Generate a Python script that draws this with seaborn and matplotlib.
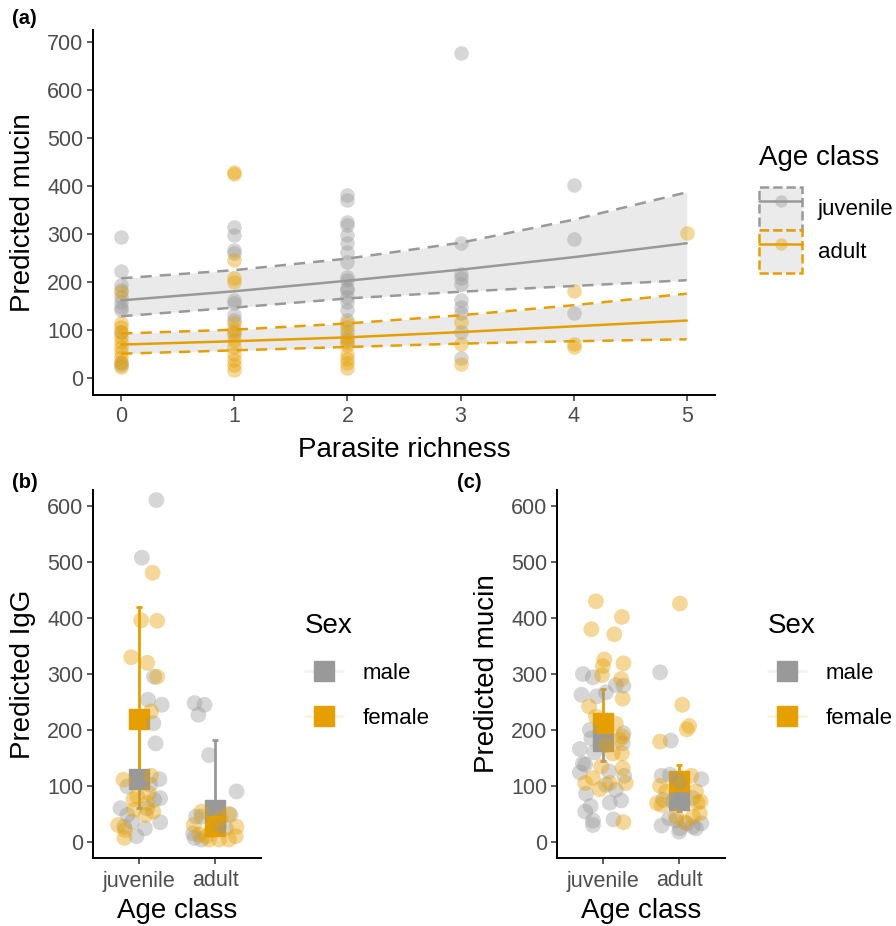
import numpy as np
import pandas as pd
import matplotlib
matplotlib.use("Agg")
import matplotlib.pyplot as plt
import seaborn as sns
from matplotlib.patches import Patch
from matplotlib.lines import Line2D
from matplotlib.legend_handler import HandlerTuple

sns.set_theme(style="white")
plt.rcParams['font.family'] = ['Liberation Sans', 'DejaVu Sans']
plt.rcParams['text.color'] = 'black'
plt.rcParams['axes.labelcolor'] = 'black'

GRAY = '#999999'
ORANGE = '#E69F00'

# ---------------- Panel (a) data ----------------
a_juv_x = [0]*11 + [1]*9 + [2]*18 + [3]*10 + [4]*3
a_juv_y = [294, 224, 194, 183, 169, 159, 149, 142, 96, 34, 28,
           315, 298, 267, 260, 163, 157, 131, 121, 96,
           381, 371, 326, 319, 298, 281, 263, 242, 211, 204, 187, 183, 169, 159, 142, 121, 97, 80,
           678, 281, 217, 208, 197, 163, 149, 135, 96, 41,
           403, 290, 135]
a_ad_x = [0]*11 + [1]*14 + [2]*9 + [3]*3 + [4]*3 + [5]*1
a_ad_y = [180, 114, 107, 96, 86, 76, 65, 55, 44, 31, 24,
          429, 425, 246, 208, 201, 114, 103, 93, 79, 65, 51, 37, 27, 17,
          114, 106, 86, 76, 70, 51, 40, 31, 22,
          117, 72, 30,
          181, 72, 65,
          303]
fit_x = [0, 1, 2, 3, 4, 5]
juv_fit = [162, 181, 203, 226, 252, 281]
juv_lo = [129, 147, 166, 180, 192, 204]
juv_hi = [208, 225, 249, 282, 330, 387]
ad_fit = [70, 77, 85, 96, 108, 120]
ad_lo = [51, 58, 65, 72, 77, 81]
ad_hi = [93, 101, 114, 131, 152, 176]
age_levels = ['juvenile', 'adult']
sex_levels = ['male', 'female']

# ---------------- Panel (b) data (IgG) ----------------
b_jm_y = [611, 508, 295, 254, 245, 212, 176, 112, 99, 78, 75, 60, 35, 36, 24, 10, 48, 27, 102, 60]
b_jm_dx = [0.23, 0.04, 0.20, 0.12, 0.30, 0.19, 0.22, 0.27, -0.15, 0.28, 0.20, -0.24, 0.28, -0.09, 0.08, -0.03, -0.15, -0.19, 0.15, 0.11]
b_jf_y = [481, 396, 395, 330, 320, 295, 233, 111, 118, 87, 76, 57, 54, 48, 69, 30, 7, 21, 81]
b_jf_dx = [0.18, 0.03, 0.24, -0.10, 0.11, 0.24, 0.16, -0.20, 0.16, 0.13, -0.07, -0.06, 0.19, 0.09, 0.11, -0.27, -0.19, -0.18, -0.02]
b_am_y = [248, 245, 227, 155, 90, 45, 45, 48, 15, 7, 24, 27, 4]
b_am_dx = [-0.27, -0.14, -0.22, -0.08, 0.28, -0.25, -0.18, 0.20, -0.29, -0.27, 0.14, 0.05, -0.18]
b_af_y = [54, 50, 27, 10, 4, 4, 4, 13, 30, 21, 42, 10]
b_af_dx = [-0.18, 0.18, 0.28, 0.27, -0.08, 0.05, 0.18, -0.21, -0.28, -0.04, 0.07, -0.12]
b_m_mean = [112, 57]; b_m_lo = [60, 15]; b_m_hi = [203, 182]
b_f_mean = [219, 28]; b_f_lo = [114, 12]; b_f_hi = [420, 60]

# ---------------- Panel (c) data (mucin) ----------------
c_jf_y = [430, 380, 402, 371, 326, 314, 298, 319, 291, 256, 242, 224, 211, 188, 183, 158, 158, 173, 135, 132, 114, 105, 105, 94, 105, 35]
c_jf_dx = [-0.09, -0.15, 0.25, 0.15, 0.02, 0.0, -0.01, 0.27, 0.24, 0.26, -0.18, -0.09, 0.17, 0.26, 0.22, 0.13, 0.25, 0.04, -0.02, 0.26, -0.13, -0.23, 0.30, -0.04, 0.09, 0.27]
c_jm_y = [300, 294, 263, 260, 267, 280, 279, 200, 185, 194, 166, 160, 140, 138, 124, 126, 118, 86, 102, 93, 70, 74, 64, 54, 38, 30, 40, 176]
c_jm_dx = [-0.26, -0.13, -0.28, -0.08, 0.04, 0.17, 0.27, -0.17, -0.15, 0.27, -0.30, -0.11, -0.26, -0.23, -0.30, 0.08, 0.28, -0.22, 0.04, 0.17, 0.09, 0.24, -0.16, -0.23, -0.13, -0.13, 0.14, 0.26]
c_af_y = [426, 245, 207, 201, 179, 100, 118, 69, 66, 90, 90, 72, 70, 51, 45, 45, 35]
c_af_dx = [0.01, 0.04, 0.13, 0.10, -0.25, -0.25, 0.16, -0.29, -0.23, -0.17, 0.22, 0.28, 0.24, 0.27, 0.18, -0.04, 0.07]
c_am_y = [303, 181, 118, 120, 112, 108, 75, 72, 78, 42, 29, 24, 18, 27, 33, 24, 33, 38]
c_am_dx = [-0.25, -0.11, -0.23, -0.12, 0.29, 0.01, -0.21, -0.08, 0.18, -0.13, -0.23, 0.01, 0.0, 0.18, 0.29, 0.22, 0.10, -0.04]
c_m_mean = [181, 75]; c_m_lo = [145, 55]; c_m_hi = [222, 104]
c_f_mean = [213, 108]; c_f_lo = [165, 85]; c_f_hi = [274, 137]

TICK_FS = 15.5
LAB_FS = 20
LEG_FS = 16
TICK_COL = '#4d4d4d'

W, H = 896, 926
fig = plt.figure(figsize=(W/100, H/100), dpi=100)

def px_axes(l, t, r, b):
    return fig.add_axes([l/W, 1 - b/H, (r-l)/W, (b-t)/H])

def style(ax, xpad=3):
    sns.despine(ax=ax)
    for s in ['left', 'bottom']:
        ax.spines[s].set_linewidth(1.4)
        ax.spines[s].set_color('black')
    ax.tick_params(axis='both', which='major', length=4, width=1.1, color='#333333',
                   labelsize=TICK_FS, labelcolor=TICK_COL, pad=3, left=True, bottom=True)
    ax.tick_params(axis='x', pad=xpad)
    ax.grid(False)

# ---- Panel (a)
axa = px_axes(93, 30, 715, 395)
axa.fill_between(fit_x, juv_lo, juv_hi, color=GRAY, alpha=0.2, lw=0, zorder=1)
axa.fill_between(fit_x, ad_lo, ad_hi, color=GRAY, alpha=0.2, lw=0, zorder=1)
sns.scatterplot(x=a_juv_x, y=a_juv_y, color=GRAY, alpha=0.4, s=110, linewidth=0, ax=axa, zorder=2)
sns.scatterplot(x=a_ad_x, y=a_ad_y, color=ORANGE, alpha=0.4, s=110, linewidth=0, ax=axa, zorder=2)
for fit, lo, hi, c in [(juv_fit, juv_lo, juv_hi, GRAY), (ad_fit, ad_lo, ad_hi, ORANGE)]:
    sns.lineplot(x=fit_x, y=fit, color=c, lw=1.8, ax=axa, zorder=3)
    for yy in (lo, hi):
        axa.plot(fit_x, yy, color=c, lw=1.8, dashes=(4.5, 3.2), zorder=3)
axa.set_xlim(-0.25, 5.25)
axa.set_ylim(-35, 725)
axa.set_xticks(range(6))
axa.set_yticks(range(0, 701, 100))
axa.set_xlabel('Parasite richness', fontsize=LAB_FS, labelpad=7)
axa.set_ylabel('Predicted mucin', fontsize=LAB_FS, labelpad=8)
style(axa, xpad=4)

handles_a = []
for c in (GRAY, ORANGE):
    patch = Patch(facecolor='#ebebeb', edgecolor=c, linestyle='--', linewidth=1.8)
    rgba = matplotlib.colors.to_rgba(c, 0.4)
    line = Line2D([0], [0], color=c, lw=1.8, marker='o', markersize=9,
                  markerfacecolor=rgba, markeredgecolor='none')
    handles_a.append((patch, line))
fig.text(759/W, 1 - 158/H, 'Age class', fontsize=LAB_FS, va='center', ha='left')
leg = fig.legend(handles_a, age_levels, loc='upper left',
                 bbox_to_anchor=(759/W, 1 - 187/H), frameon=False,
                 fontsize=LEG_FS,
                 handler_map={tuple: HandlerTuple(ndivide=1)},
                 handlelength=1.94, handleheight=2.6, handletextpad=0.7,
                 labelspacing=0.0, borderpad=0, borderaxespad=0)

# ---- Panels (b) and (c)
def strip_panel(ax, jm, jmdx, jf, jfdx, am, amdx, af, afdx,
                m_mean, m_lo, m_hi, f_mean, f_lo, f_hi, ylabel):
    xs = [0, 1]
    for mean, lo, hi, c in [(m_mean, m_lo, m_hi, GRAY), (f_mean, f_lo, f_hi, ORANGE)]:
        err = [np.array(mean) - np.array(lo), np.array(hi) - np.array(mean)]
        ax.errorbar(xs, mean, yerr=err, fmt='s', color=c, markersize=14,
                    elinewidth=2, capsize=2, capthick=2, zorder=2)
    df = pd.DataFrame({
        'x': [0 + d for d in jmdx] + [0 + d for d in jfdx] + [1 + d for d in amdx] + [1 + d for d in afdx],
        'y': jm + jf + am + af,
        'sex': ['male']*len(jm) + ['female']*len(jf) + ['male']*len(am) + ['female']*len(af),
    })
    sns.scatterplot(data=df, x='x', y='y', hue='sex', hue_order=sex_levels,
                    palette=[GRAY, ORANGE], alpha=0.4, s=130, linewidth=0,
                    ax=ax, legend=False, zorder=3)
    ax.set_xlim(-0.6, 1.6)
    ax.set_ylim(-29, 629)
    ax.set_xticks([0, 1])
    ax.set_xticklabels(age_levels)
    ax.set_yticks(range(0, 601, 100))
    ax.set_xlabel('Age class', fontsize=LAB_FS, labelpad=5)
    ax.set_ylabel(ylabel, fontsize=LAB_FS, labelpad=8)
    style(ax, xpad=5)

axb = px_axes(93, 490, 261, 858)
strip_panel(axb, b_jm_y, b_jm_dx, b_jf_y, b_jf_dx, b_am_y, b_am_dx, b_af_y, b_af_dx,
            b_m_mean, b_m_lo, b_m_hi, b_f_mean, b_f_lo, b_f_hi, 'Predicted IgG')
axc = px_axes(557, 490, 725, 858)
strip_panel(axc, c_jm_y, c_jm_dx, c_jf_y, c_jf_dx, c_am_y, c_am_dx, c_af_y, c_af_dx,
            c_m_mean, c_m_lo, c_m_hi, c_f_mean, c_f_lo, c_f_hi, 'Predicted mucin')

def sex_legend(x0):
    hs = []
    for c in (GRAY, ORANGE):
        hs.append(Line2D([0], [0], color=matplotlib.colors.to_rgba(c, 0.12), lw=2,
                         marker='s', markersize=14, markerfacecolor=c, markeredgecolor=c))
    lg = fig.legend(hs, sex_levels, title='Sex', loc='upper left',
                    bbox_to_anchor=(x0/W, 1 - 613/H), frameon=False,
                    fontsize=LEG_FS, title_fontsize=LAB_FS,
                    handlelength=1.7, handletextpad=0.9, labelspacing=1.08,
                    borderpad=0, borderaxespad=0)
    lg._legend_box.align = 'left'

sex_legend(305)
sex_legend(768)

for x, y, t in [(12, 18, '(a)'), (12, 483, '(b)'), (457, 483, '(c)')]:
    fig.text(x/W, 1 - y/H, t, fontsize=14.5, fontweight='bold', va='center', ha='left')

fig.savefig('out.png', dpi=100)
